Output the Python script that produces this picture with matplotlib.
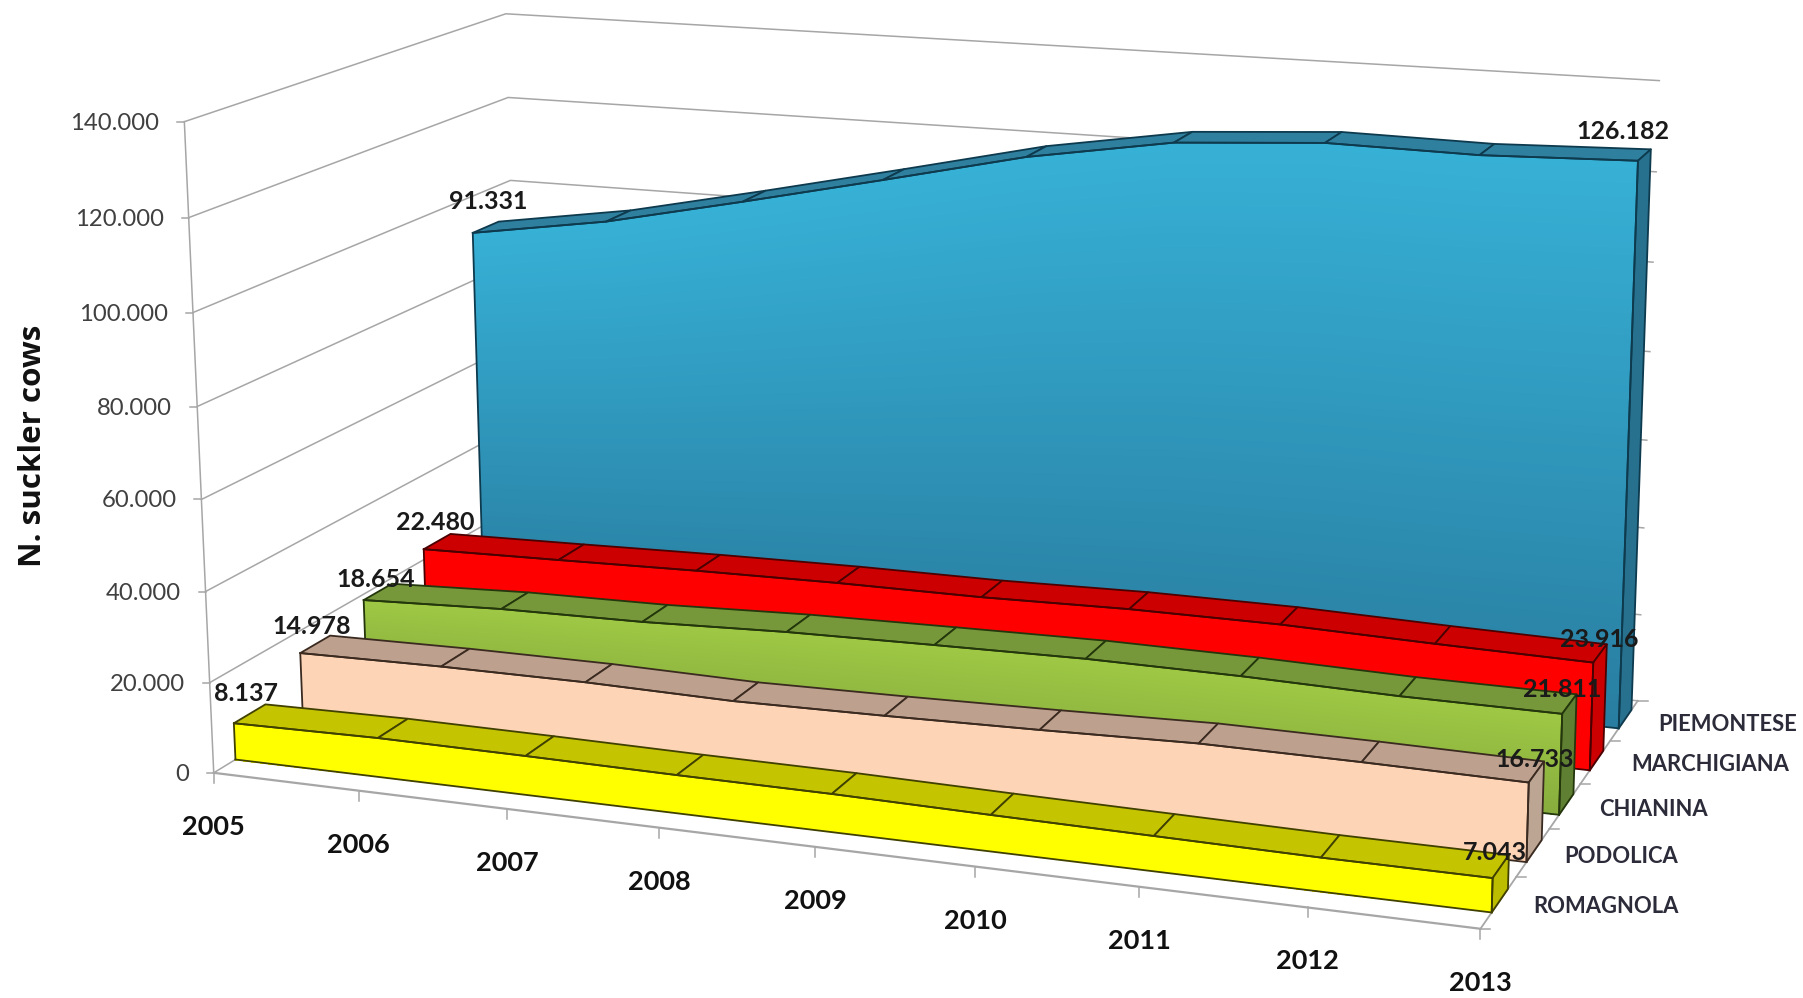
#!/usr/bin/env python

"""
Suckler cow numbers per breed, 2005-2013, drawn as a 3D area chart on plain 2D axes.
"""

import numpy as np
import matplotlib
matplotlib.use("Agg")
import matplotlib.pyplot as plt

years = [2005, 2006, 2007, 2008, 2009, 2010, 2011, 2012, 2013]
breeds = ["ROMAGNOLA", "PODOLICA", "CHIANINA", "MARCHIGIANA", "PIEMONTESE"]

romagnola = [8137, 8650, 8550, 8300, 8200, 7750, 7400, 7050, 7043]
podolica = [14978, 15500, 15600, 15100, 15600, 16300, 17200, 17100, 16733]
chianina = [18654, 20000, 20500, 21700, 22300, 22800, 22600, 21900, 21811]
marchigiana = [22480, 23200, 24000, 24500, 24600, 25300, 25300, 24500, 23916]
piemontese = [91331, 96400, 103400, 110700, 118200, 123600, 125700, 125200, 126182]

value_ticks = [0, 20000, 40000, 60000, 80000, 100000, 120000, 140000]
value_labels = ["0", "20.000", "40.000", "60.000", "80.000", "100.000", "120.000", "140.000"]

FRONT_GAP = 0.31
BACK_GAP = 0.77

# (year index, depth, value) -> pixel pairs used to fit the camera
CAMERA_WORLD = np.array([
    [0, 0, 0], [0, 0, 140000], [8, 0, 0], [8, 5, 0],
    [8, 5, 140000], [0, 5, 140000], [0, 5, 0],
    [0, 4.31, 91331], [0, 3.31, 22480], [0, 2.31, 18654], [0, 1.31, 14978], [0, 0.31, 8137],
    [8, 4.31, 126182], [8, 3.31, 23916], [8, 2.31, 21811], [8, 1.31, 16733], [8, 0.31, 7043],
    [0, 0.31, 0], [8, 0.31, 0], [8, 4.31, 0],
], dtype=float)
CAMERA_PIXEL = np.array([
    [213.5, 772.7], [186.6, 121.7], [1482.7, 930.0], [1641.0, 699.0],
    [1660.0, 80.0], [505.0, 13.3], [525.0, 586.0],
    [471.0, 232.7], [422.7, 550.0], [363.3, 600.0], [300.0, 652.7], [233.0, 723.0],
    [1638.0, 162.0], [1592.7, 661.7], [1560.7, 715.0], [1528.0, 782.7], [1493.0, 879.0],
    [235.0, 758.0], [1491.7, 911.7], [1615.0, 728.0],
])


def fit_camera(world, pixel):
    """Least squares fit of a 3x4 projective camera."""
    rows, rhs = [], []
    for (x, y, z), (u, v) in zip(world / [8, 5, 140000], pixel):
        rows.append([x, y, z, 1, 0, 0, 0, 0, -u * x, -u * y, -u * z])
        rows.append([0, 0, 0, 0, x, y, z, 1, -v * x, -v * y, -v * z])
        rhs += [u, v]
    coef = np.linalg.lstsq(np.array(rows), np.array(rhs), rcond=None)[0]
    return np.append(coef, 1.0).reshape(3, 4)


CAMERA = fit_camera(CAMERA_WORLD, CAMERA_PIXEL)


def project(t, d, v):
    t, d, v = np.broadcast_arrays(np.asarray(t, float), np.asarray(d, float), np.asarray(v, float))
    p = np.stack([t / 8, d / 5, v / 140000, np.ones_like(t)])
    q = np.tensordot(CAMERA, p, axes=1)
    return q[0] / q[2], q[1] / q[2]


fig = plt.figure(figsize=(18.03, 9.98), dpi=100)
ax = fig.add_axes([0, 0, 1, 1])
ax.set_xlim(0, 1803)
ax.set_ylim(998, 0)
ax.axis("off")

GRID = "#a6a6a6"
t_idx = np.arange(len(years))

# walls
for val in value_ticks:
    x, y = project([0, 0, 8], [0, 5, 5], val)
    ax.plot(x, y, color=GRID, lw=1.1, zorder=1)
x, y = project([0, 0], [0, 0], [0, 140000])
ax.plot(x, y, color=GRID, lw=1.1, zorder=1)

# front floor edge and side floor edge
x, y = project([0, 8], [0, 0], [0, 0])
ax.plot(x, y, color=GRID, lw=1.6, zorder=1)
x, y = project([8, 8], [0, 5], [0, 0])
ax.plot(x, y, color=GRID, lw=1.3, zorder=1)

# axis ticks and their labels
for val, lab in zip(value_ticks, value_labels):
    x, y = project(0, 0, val)
    ax.plot([x - 7, x], [y, y], color=GRID, lw=1.1, zorder=1)
    ax.annotate(lab, (x, y), xytext=(-25, -1.5), textcoords="offset pixels", ha="right", va="center",
                fontsize=17.2, color="#404040", family="Lato")
for t, yr in zip(t_idx, years):
    x, y = project(t, 0, 0)
    ax.plot([x, x], [y, y + 10], color=GRID, lw=1.1, zorder=1)
    ax.annotate(str(yr), (x, y), xytext=(0, -54), textcoords="offset pixels", ha="center", va="center",
                fontsize=19.5, fontweight="bold", color="#111111", family="Lato")
for d in range(6):
    x, y = project(8, d, 0)
    ax.plot([x, x + 10], [y, y], color=GRID, lw=1.1, zorder=1)

# breed names sit beside the side edge
name_offsets = [(107, -3.5), (88, -3.5), (88, -3.5), (115, -2.5), (104, -4)]
for k, (name, off) in enumerate(zip(breeds, name_offsets)):
    x, y = project(8, k + 0.5, 0)
    ax.annotate(name, (x, y), xytext=off, textcoords="offset pixels", ha="center", va="center",
                fontsize=15.8, fontweight="bold", color="#2b2b3a", family="Lato")


def draw_series(k, values, top_rgb, bottom_rgb, roof, side, edge, zbase):
    d0, d1 = k + FRONT_GAP, k + BACK_GAP
    values = np.array(values, float)

    # front face, shaded from the top edge down
    fracs = np.linspace(0, 1, 81)
    tt, ff = np.meshgrid(t_idx.astype(float), fracs)
    X, Y = project(tt, d0, ff * values[None, :])
    mid = (fracs[:-1] + fracs[1:]) / 2
    colors = np.outer(mid, np.array(top_rgb, float)) + np.outer(1 - mid, np.array(bottom_rgb, float))
    colors = np.repeat(colors[:, None, :], len(t_idx) - 1, axis=1) / 255.0
    ax.pcolormesh(X, Y, colors, shading="flat", zorder=zbase)

    # roof strip, one segment per year
    for i in range(len(t_idx) - 1):
        xa, ya = project([i, i + 1, i + 1, i], [d0, d0, d1, d1], [values[i], values[i + 1], values[i + 1], values[i]])
        ax.fill(xa, ya, facecolor=roof, edgecolor=edge, lw=1.3, zorder=zbase + 0.1, joinstyle="round")

    # right-hand end
    xa, ya = project([8, 8, 8, 8], [d0, d1, d1, d0], [0, 0, values[-1], values[-1]])
    ax.fill(xa, ya, facecolor=side, edgecolor=edge, lw=1.3, zorder=zbase + 0.1, joinstyle="round")

    # front outline
    for tline, vline in (([0, 0], [0, values[0]]), (t_idx, values), (t_idx, 0 * values), ([8, 8], [0, values[-1]])):
        xa, ya = project(tline, d0, vline)
        ax.plot(xa, ya, color=edge, lw=1.3, zorder=zbase + 0.2)


draw_series(4, piemontese, (55, 176, 214), (40, 125, 160), "#2f7f9f", "#27708e", "#0e3a4e", 10)
draw_series(3, marchigiana, (255, 0, 0), (255, 0, 0), "#cc0000", "#cc0000", "#4a0000", 20)
draw_series(2, chianina, (158, 200, 68), (135, 172, 62), "#76983a", "#5f8032", "#24360c", 30)
draw_series(1, podolica, (253, 212, 182), (253, 212, 182), "#bda08d", "#bda594", "#3a2a20", 40)
draw_series(0, romagnola, (255, 255, 0), (255, 255, 0), "#c4c400", "#bdbd00", "#404000", 50)

# value labels at both ends of every series
first_offsets = [(12.5, 30), (11, 27), (12, 21), (12, 27), (15.6, 31)]
last_offsets = [(2, 26), (6, 23), (0, 24), (6, 23), (-15, 29)]
series = [romagnola, podolica, chianina, marchigiana, piemontese]
for k, vals in enumerate(series):
    for t, val, off in ((0, vals[0], first_offsets[k]), (8, vals[-1], last_offsets[k])):
        x, y = project(t, k + FRONT_GAP, val)
        ax.annotate(f"{val:,}".replace(",", "."), (x, y), xytext=off, textcoords="offset pixels",
                    ha="center", va="center", fontsize=18, fontweight="bold", color="#1a1a1a",
                    family="Lato", zorder=80)

ax.text(33, 446, "N. suckler cows", rotation=90, ha="center", va="center", fontsize=22.6,
        fontweight="bold", color="#111111", family="Open Sans")

fig.savefig("out.png", dpi=100)
